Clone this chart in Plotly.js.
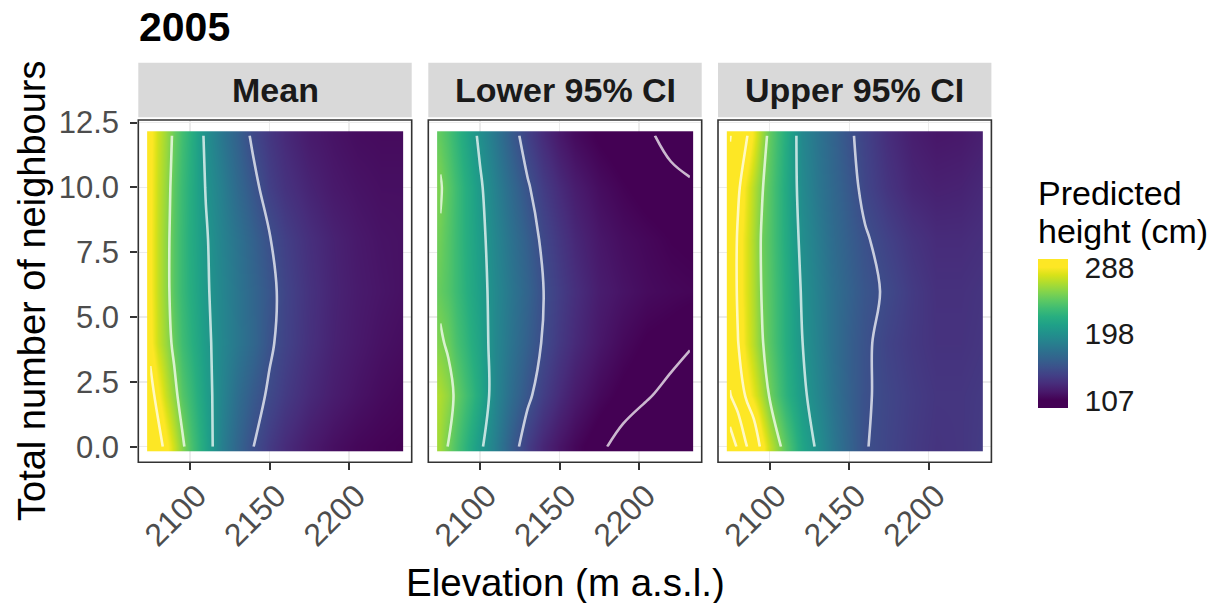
<!DOCTYPE html>
<html><head><meta charset="utf-8">
<script src="https://cdn.plot.ly/plotly-3.0.1.min.js"></script>
<style>html,body{margin:0;padding:0;background:#fff}#chart{width:1220px;height:603px}</style>
</head><body><div id="chart"></div>
<script>
// ---------------- data ----------------
const plotTitle = '2005';
const panelNames = ['Mean', 'Lower 95% CI', 'Upper 95% CI'];
const elevation = [2075, 2080, 2085, 2090, 2095, 2100, 2110, 2120, 2130, 2140, 2150, 2160, 2175, 2190, 2205, 2220, 2232];
const neighbours = [0, 2, 4, 6, 8, 10, 12];

// predicted height (cm), rows = neighbours, columns = elevation
const heightMean = [
  [330, 311, 292, 274, 255, 238, 212, 184, 165, 150, 138, 129, 120, 114, 110, 108, 107],
  [310, 290, 272, 257, 240, 230, 208, 188, 171, 158, 147, 138, 128, 121, 116, 112, 110],
  [292, 273, 260, 245, 232, 223, 205, 190, 178, 167, 153, 143, 132, 124, 119, 115, 113],
  [290, 271, 257, 240, 229, 220, 203, 189, 177, 166, 155, 144, 133, 125, 120, 117, 115],
  [290, 271, 257, 240, 229, 219, 202, 187, 175, 163, 151, 141, 131, 124, 119, 116, 115],
  [291, 272, 259, 242, 230, 220, 199, 184, 168, 155, 141, 133, 125, 119, 116, 114, 114],
  [292, 274, 261, 246, 233, 222, 196, 178, 162, 146, 136, 128, 120, 116, 113, 112, 112]
];
const heightLower = [
  [262, 249, 237, 226, 215, 204, 183, 159, 139, 126, 117, 110, 102,  96,  92,  89,  87],
  [266, 258, 246, 236, 226, 215, 189, 170, 154, 140, 129, 120, 111, 105, 101,  97,  94],
  [253, 247, 236, 228, 219, 211, 190, 175, 161, 148, 137, 128, 118, 111, 106, 104, 101],
  [245, 239, 231, 223, 215, 208, 191, 177, 164, 150, 140, 131, 121, 116, 112, 110, 109],
  [248, 240, 231, 222, 214, 206, 189, 174, 160, 146, 136, 127, 118, 113, 110, 107, 106],
  [252, 242, 232, 222, 213, 203, 185, 168, 152, 139, 129, 121, 113, 108, 104, 102, 101],
  [244, 236, 226, 216, 206, 196, 178, 158, 141, 129, 119, 112, 106, 102, 101,  98,  96]
];
const heightUpper = [
  [430, 393, 355, 322, 293, 272, 241, 214, 197, 180, 165, 151, 144, 138, 134, 135, 138],
  [352, 328, 296, 281, 266, 248, 224, 205, 190, 176, 163, 152, 145, 139, 135, 135, 137],
  [330, 301, 282, 268, 252, 241, 220, 201, 187, 174, 162, 153, 143, 137, 133, 133, 135],
  [325, 296, 280, 266, 249, 240, 220, 199, 186, 174, 164, 155, 147, 138, 132, 132, 134],
  [328, 296, 280, 265, 248, 239, 218, 196, 183, 171, 161, 152, 142, 134, 129, 129, 131],
  [335, 305, 284, 268, 252, 240, 217, 193, 179, 168, 157, 145, 134, 126, 123, 124, 127],
  [352, 326, 304, 284, 262, 244, 219, 191, 177, 165, 153, 143, 130, 122, 118, 119, 122]
];
const contourLevels = {start: 100, end: 400, size: 50};
const legendTicks = [107, 198, 288];
const xTickVals = [2100, 2150, 2200];
const yTickVals = [0, 2.5, 5, 7.5, 10, 12.5];

// ---------------- styling / layout helpers ----------------
const W = 1220, H = 603;
const FONT = 'Liberation Sans, Arial, Helvetica, sans-serif';
const px = v => v / W;
const py = v => 1 - v / H;
const panelX = [[138.3, 411.7], [428.3, 701.7], [718.0, 991.4]];
const panelTop = 120, panelBottom = 462.3;
const stripTop = 62.7, stripBottom = 117.3;
const xRange = [2067.5, 2239.4];
const yRange = [-0.6, 12.6];

const viridis = [[0,'#440154'],[0.06274509803921569,'#48186a'],[0.12549019607843137,'#472d7b'],[0.18823529411764706,'#424086'],[0.25098039215686274,'#3b528b'],[0.3137254901960784,'#33638d'],[0.3764705882352941,'#2c728e'],[0.4392156862745098,'#26828e'],[0.5019607843137255,'#21918c'],[0.5647058823529412,'#1fa088'],[0.6274509803921569,'#28ae80'],[0.6901960784313725,'#3fbc73'],[0.7529411764705882,'#5ec962'],[0.8156862745098039,'#84d44b'],[0.8784313725490196,'#addc30'],[0.9411764705882353,'#d8e219'],[1,'#fde725']];
// legend bar extends a little beyond the scale limits (as ggplot draws it)
const barMin = 96.4, barMax = 299.2;
const barTopPx = 259.3, barLenPx = 149;
const limLo = legendTicks[0], limHi = legendTicks[legendTicks.length - 1];
const colorscale = [[0, viridis[0][1]]]
  .concat(viridis.map(([t, c]) => [((limLo + t * (limHi - limLo)) - barMin) / (barMax - barMin), c]))
  .concat([[1, viridis[viridis.length - 1][1]]]);

// pad grid so the raster reaches slightly beyond the outer grid points
function padAxis(a, e) { return [a[0] - e].concat(a, [a[a.length - 1] + e]); }
function padZ(z) {
  const rows = z.map(r => [r[0]].concat(r, [r[r.length - 1]]));
  return [rows[0]].concat(rows, [rows[rows.length - 1]]);
}

const heights = [heightMean, heightLower, heightUpper];
const traces = [];
heights.forEach((z, i) => {
  const xa = i === 0 ? 'x' : 'x' + (i + 1);
  traces.push({
    type: 'heatmap', x: padAxis(elevation, 1.3), y: padAxis(neighbours, 0.11), z: padZ(z),
    xaxis: xa, yaxis: 'y', zsmooth: 'best', zmin: barMin, zmax: barMax, colorscale: colorscale,
    showscale: i === 0, hoverinfo: 'skip',
    colorbar: {
      x: px(1038), xanchor: 'left', xpad: 0, y: py(barTopPx + barLenPx / 2), yanchor: 'middle', ypad: 0,
      len: barLenPx, lenmode: 'pixels', thickness: 30, thicknessmode: 'pixels', outlinewidth: 0,
      tickmode: 'array', tickvals: legendTicks, ticktext: legendTicks.map(String),
      ticks: 'outside', ticklen: 11, tickwidth: 1, tickcolor: 'rgba(255,255,255,0)',
      tickfont: {family: FONT, size: 30, color: '#1a1a1a'}
    }
  });
  traces.push({
    type: 'contour', x: elevation, y: neighbours, z: z, xaxis: xa, yaxis: 'y',
    autocontour: false, contours: Object.assign({coloring: 'none', showlabels: false}, contourLevels),
    line: {color: 'rgba(255,255,255,0.72)', width: 2.6, smoothing: 1},
    showscale: false, hoverinfo: 'skip'
  });
});

function xAxis(i) {
  return {
    domain: [px(panelX[i][0]), px(panelX[i][1])], range: xRange, anchor: 'y',
    tickmode: 'array', tickvals: xTickVals, ticktext: xTickVals.map(String), tickangle: -45,
    ticks: 'outside', ticklen: 7, tickwidth: 2, tickcolor: '#333333',
    ticklabelstandoff: -6, ticklabelshift: 7,
    tickfont: {family: FONT, size: 32, color: '#4d4d4d'},
    showgrid: true, gridcolor: '#ebebeb', gridwidth: 1.2, zeroline: false, showline: false, fixedrange: true
  };
}

const shapes = [];
const annotations = [];
panelX.forEach((p, i) => {
  shapes.push({type: 'rect', xref: 'paper', yref: 'paper', x0: px(p[0]), x1: px(p[1]), y0: py(stripBottom), y1: py(stripTop),
    fillcolor: '#d9d9d9', line: {width: 0}, layer: 'below'});
  shapes.push({type: 'rect', xref: 'paper', yref: 'paper', x0: px(p[0]), x1: px(p[1]), y0: py(panelBottom), y1: py(panelTop),
    fillcolor: 'rgba(0,0,0,0)', line: {color: '#333333', width: 1.6}, layer: 'above'});
  annotations.push({xref: 'paper', yref: 'paper', x: px((p[0] + p[1]) / 2), y: py(90), xanchor: 'center', yanchor: 'middle',
    text: '<b>' + panelNames[i] + '</b>', showarrow: false, font: {family: FONT, size: 34, color: '#1a1a1a'}});
});

annotations.push({xref: 'paper', yref: 'paper', x: px(137), y: py(27), xanchor: 'left', yanchor: 'middle',
  text: '<b>' + plotTitle + '</b>', showarrow: false, font: {family: FONT, size: 41, color: '#000'}});
annotations.push({xref: 'paper', yref: 'paper', x: px(565), y: py(582), xanchor: 'center', yanchor: 'middle',
  text: 'Elevation (m a.s.l.)', showarrow: false, font: {family: FONT, size: 38.5, color: '#000'}});
annotations.push({xref: 'paper', yref: 'paper', x: px(32), y: py(291), xanchor: 'center', yanchor: 'middle', textangle: -90,
  text: 'Total number of neighbours', showarrow: false, font: {family: FONT, size: 38, color: '#000'}});
annotations.push({xref: 'paper', yref: 'paper', x: px(1036), y: py(193), xanchor: 'left', yanchor: 'middle',
  text: 'Predicted', showarrow: false, font: {family: FONT, size: 34, color: '#000'}});
annotations.push({xref: 'paper', yref: 'paper', x: px(1036), y: py(231), xanchor: 'left', yanchor: 'middle',
  text: 'height (cm)', showarrow: false, font: {family: FONT, size: 34, color: '#000'}});

const layout = {
  width: W, height: H, margin: {l: 0, r: 0, t: 0, b: 0},
  paper_bgcolor: '#ffffff', plot_bgcolor: '#ffffff', showlegend: false, hovermode: false,
  font: {family: FONT},
  xaxis: xAxis(0), xaxis2: xAxis(1), xaxis3: xAxis(2),
  yaxis: {
    domain: [py(panelBottom), py(panelTop)], range: yRange, anchor: 'x',
    tickmode: 'array', tickvals: yTickVals, ticktext: yTickVals.map(v => v.toFixed(1)),
    ticks: 'outside', ticklen: 7, tickwidth: 2, tickcolor: '#333333', ticklabelstandoff: 5,
    tickfont: {family: FONT, size: 31, color: '#4d4d4d'},
    showgrid: true, gridcolor: '#ebebeb', gridwidth: 1.2, zeroline: false, showline: false, fixedrange: true
  },
  shapes: shapes, annotations: annotations
};

Plotly.newPlot('chart', traces, layout, {staticPlot: true, displayModeBar: false});
</script>
</body></html>
